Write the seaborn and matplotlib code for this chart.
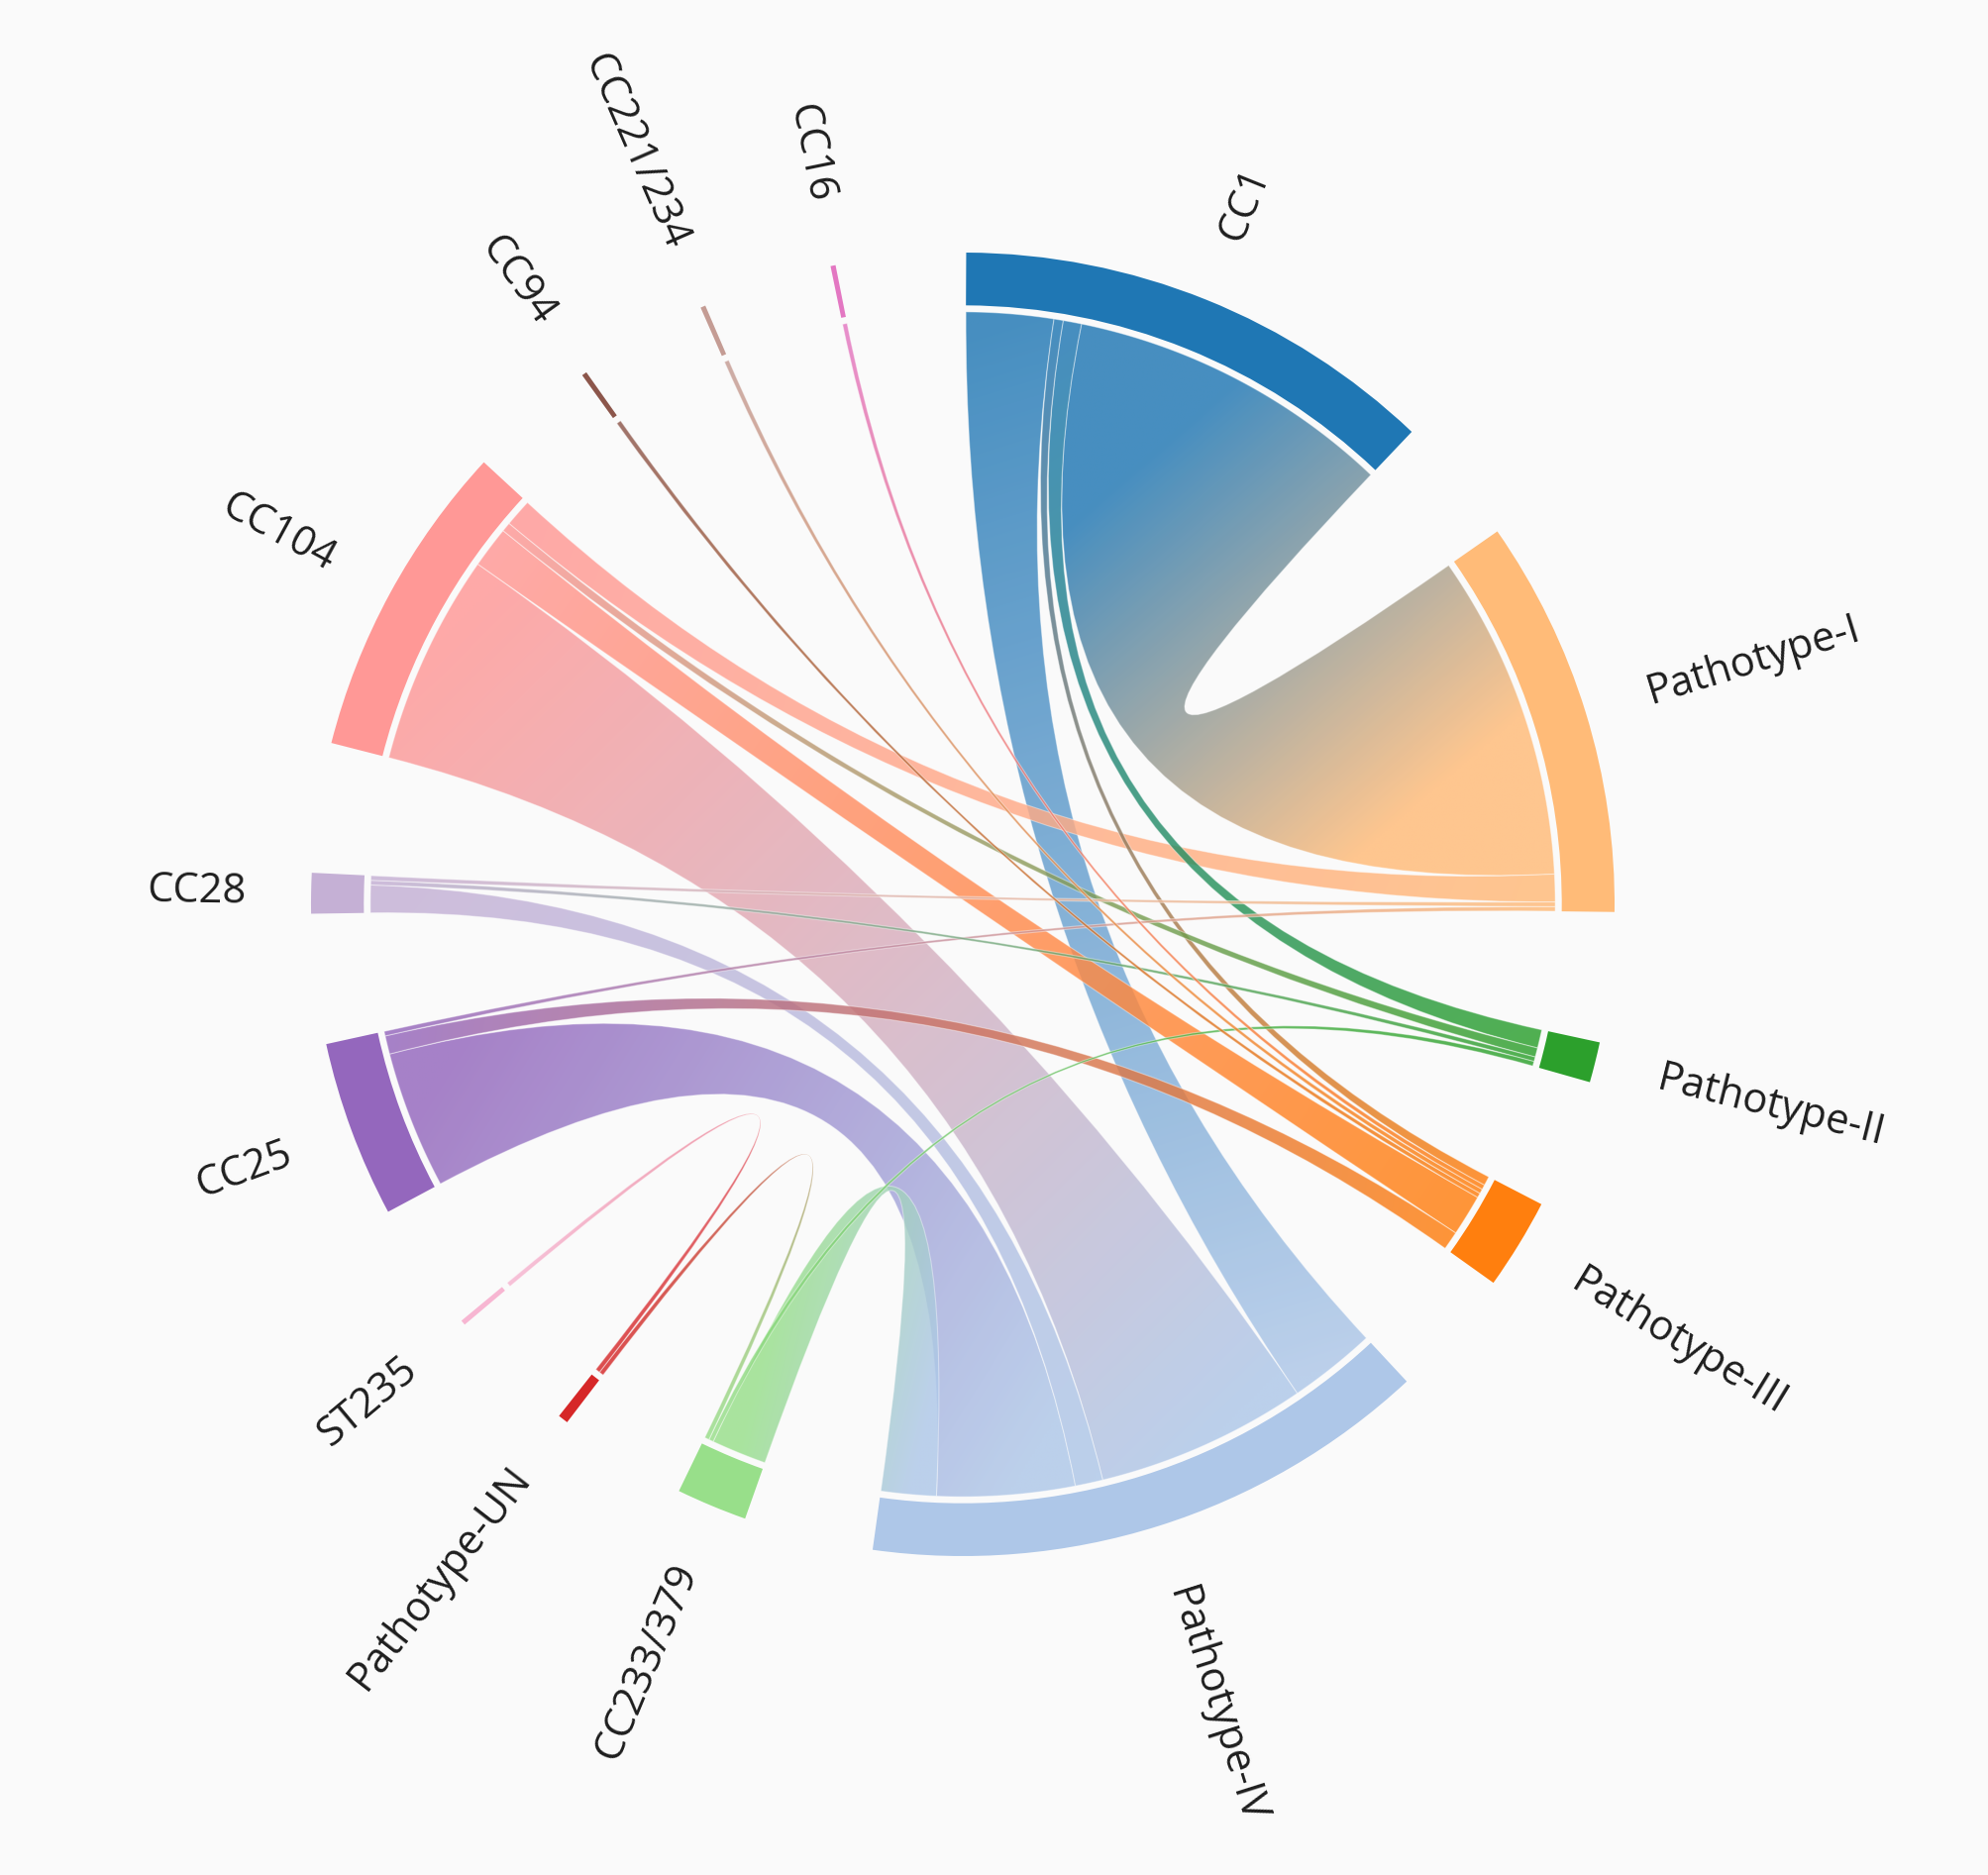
import numpy as np
import pandas as pd
import matplotlib
matplotlib.use("Agg")
import matplotlib.pyplot as plt
from matplotlib.path import Path
from matplotlib.patches import PathPatch, Wedge
import seaborn as sns

# ---- Nodes, clockwise from 12 o'clock ----
ring_order = ["CC1", "Pathotype-I", "Pathotype-II", "Pathotype-III", "Pathotype-IV",
              "CC233/379", "Pathotype-UN", "ST235", "CC25", "CC28", "CC104",
              "CC94", "CC221/234", "CC16"]

# order in which nodes take their colour from tab20
color_order = ["CC1", "Pathotype-IV", "Pathotype-III", "Pathotype-I", "Pathotype-II",
               "CC233/379", "Pathotype-UN", "CC104", "CC25", "CC28", "CC94",
               "CC221/234", "CC16", "ST235"]

# ---- Links (clonal complex -> pathotype) ----
sources = ["CC1", "CC1", "CC1", "CC1",
           "CC104", "CC104", "CC104", "CC104",
           "CC25", "CC25", "CC25",
           "CC28", "CC28", "CC28",
           "CC233/379", "CC233/379", "CC233/379",
           "ST235", "CC94", "CC221/234", "CC16"]
targets = ["Pathotype-I", "Pathotype-IV", "Pathotype-II", "Pathotype-III",
           "Pathotype-IV", "Pathotype-III", "Pathotype-I", "Pathotype-II",
           "Pathotype-IV", "Pathotype-III", "Pathotype-I",
           "Pathotype-IV", "Pathotype-II", "Pathotype-I",
           "Pathotype-IV", "Pathotype-II", "Pathotype-UN",
           "Pathotype-UN", "Pathotype-III", "Pathotype-III", "Pathotype-III"]
values = [71, 19, 4, 2,
          46, 9, 6, 2,
          30, 4, 1,
          6, 1, 1,
          12, 1, 1,
          1, 1, 1, 1]

links = pd.DataFrame({"source": sources, "target": targets, "value": values})

# ---- style ----
sns.set_style("white")
plt.rcParams["font.family"] = ["Open Sans", "DejaVu Sans"]
palette = sns.color_palette("tab20", 20)
colors = {name: palette[i] for i, name in enumerate(color_order)}

# ---- layout ----
R_OUT, R_BAND, R_RIB, R_LAB = 1.0, 0.919, 0.909, 1.10
PAD = 11.56
START = 0.3
ALPHA = 0.82

node_val = pd.concat([links.groupby("source")["value"].sum(),
                      links.groupby("target")["value"].sum()]).groupby(level=0).sum()
deg_per_unit = (360 - PAD * len(ring_order)) / node_val.sum()

node_start, node_end = {}, {}
a = START
for n in ring_order:
    node_start[n] = a
    a += node_val[n] * deg_per_unit
    node_end[n] = a
    a += PAD
node_mid = {n: (node_start[n] + node_end[n]) / 2 for n in ring_order}

# slots of each link on each node, ordered so ribbons don't cross
slot = {}
for n in ring_order:
    rows = [(i, r.target if r.source == n else r.source)
            for i, r in links.iterrows() if n in (r.source, r.target)]
    rows.sort(key=lambda t: -((node_mid[t[1]] - node_mid[n]) % 360))
    a = node_start[n]
    for i, other in rows:
        w = links.value[i] * deg_per_unit
        slot[(i, n)] = (a, a + w)
        a += w


def pt(theta, r):
    t = np.radians(theta)
    return np.array([r * np.sin(t), r * np.cos(t)])


def arc_pts(a0, a1, r, n=60):
    return [pt(t, r) for t in np.linspace(a0, a1, n)]


# ---- figure ----
W, H = 2008, 1893
scale = 658.0
cx, cy = 972.0, 913.0
fig = plt.figure(figsize=(W / 100, H / 100), dpi=100)
fig.patch.set_facecolor("#fafafa")
ax = fig.add_axes([0, 0, 1, 1])
ax.set_facecolor("#fafafa")

# ---- ribbons (big ones first, thin ones on top) ----
order = links.sort_values("value", ascending=False).index
for z, i in enumerate(order):
    src, tgt = links.source[i], links.target[i]
    s0, s1 = slot[(i, src)]
    t0, t1 = slot[(i, tgt)]

    verts, codes = [], []
    sp = arc_pts(s0, s1, R_RIB)
    verts += sp
    codes += [Path.MOVETO] + [Path.LINETO] * (len(sp) - 1)
    verts += [(0, 0), pt(t0, R_RIB)]
    codes += [Path.CURVE3, Path.CURVE3]
    tp = arc_pts(t0, t1, R_RIB)
    verts += tp[1:]
    codes += [Path.LINETO] * (len(tp) - 1)
    verts += [(0, 0), pt(s0, R_RIB), pt(s0, R_RIB)]
    codes += [Path.CURVE3, Path.CURVE3, Path.CLOSEPOLY]
    path = Path(np.array(verts, dtype=float), codes)

    # gradient from source colour to target colour
    bb = path.get_extents()
    xmin, xmax = bb.x0 - 0.01, bb.x1 + 0.01
    ymin, ymax = bb.y0 - 0.01, bb.y1 + 0.01
    X, Y = np.meshgrid(np.linspace(xmin, xmax, 300), np.linspace(ymin, ymax, 300))
    A = pt((s0 + s1) / 2, R_RIB)
    B = pt((t0 + t1) / 2, R_RIB)
    d = B - A
    t = np.clip(((X - A[0]) * d[0] + (Y - A[1]) * d[1]) / (d @ d), 0, 1)[..., None]
    rgb = (1 - t) * np.array(colors[src]) + t * np.array(colors[tgt])
    img = np.dstack([rgb, np.full(X.shape, ALPHA)])

    im = ax.imshow(img, extent=[xmin, xmax, ymin, ymax], origin="lower",
                   interpolation="bilinear", aspect="auto", zorder=1 + z * 0.01)
    patch = PathPatch(path, facecolor="none", edgecolor=(1, 1, 1, 0.4),
                      lw=0.8, zorder=1 + z * 0.01 + 0.005)
    ax.add_patch(patch)
    im.set_clip_path(patch)

# ---- node arcs ----
for n in ring_order:
    ax.add_patch(Wedge((0, 0), R_OUT, 90 - node_end[n], 90 - node_start[n],
                       width=R_OUT - R_BAND, facecolor=colors[n], lw=0, zorder=5))

# ---- labels ----
for n in ring_order:
    m = node_mid[n]
    x, y = pt(m, R_LAB)
    if m < 180:
        rot, ha = 90 - m, "left"
    else:
        rot, ha = 270 - m, "right"
    ax.text(x, y, n, rotation=rot, rotation_mode="anchor", ha=ha, va="center",
            fontsize=30, color="#1e1e1e", zorder=6)

ax.set_xlim(-cx / scale, (W - cx) / scale)
ax.set_ylim(-(H - cy) / scale, cy / scale)
ax.axis("off")

fig.savefig("out.png", dpi=100, facecolor=fig.get_facecolor())
